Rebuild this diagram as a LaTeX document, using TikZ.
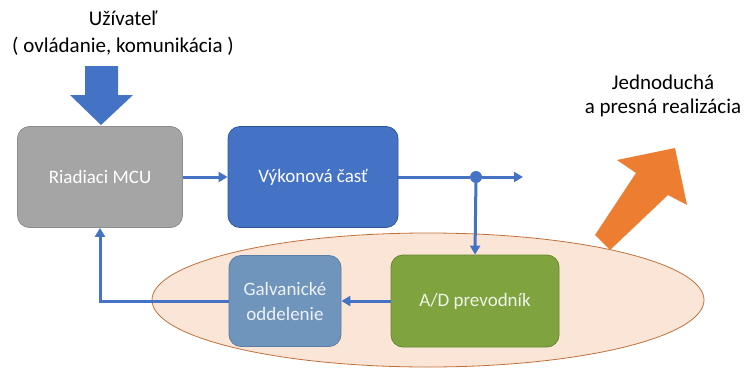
\documentclass[tikz,border=0pt]{standalone}
\usepackage{fontspec}
\setmainfont{Carlito}
\usetikzlibrary{arrows.meta}

\definecolor{mcugray}{HTML}{A5A5A5}
\definecolor{mcuedge}{HTML}{8E8E8E}
\definecolor{powblue}{HTML}{4472C4}
\definecolor{powedge}{HTML}{2F5597}
\definecolor{galblue}{HTML}{7095BD}
\definecolor{galedge}{HTML}{5A7DA6}
\definecolor{adgreen}{HTML}{7FA33F}
\definecolor{adedge}{HTML}{66872F}
\definecolor{ovalfill}{HTML}{FBE5D6}
\definecolor{ovaledge}{HTML}{C0713A}
\definecolor{goorange}{HTML}{ED7D31}

\begin{document}
\begin{tikzpicture}[x=1pt,y=-1pt,
    blok/.style={rounded corners=12pt, draw, line width=0.8pt, align=center,
        font=\fontsize{19}{25}\selectfont},
    spoj/.style={line width=3pt, draw=powblue, -{Triangle[length=9pt,width=10pt]}}]
    \useasboundingbox (0,0) rectangle (744,367);

    \coordinate (O) at (428,300);
    \coordinate (vystup) at (523,177);

    \filldraw[fill=ovalfill, draw=ovaledge, line width=0.8pt]
        (O) ellipse [x radius=276pt, y radius=67pt];

    \node[blok, fill=mcugray, draw=mcuedge, text=white, minimum width=165pt, minimum height=101pt]
        (mcu) at (100,177) {Riadiaci MCU};
    \node[blok, fill=powblue, draw=powedge, text=white, minimum width=170pt, minimum height=101pt]
        (vykon) at (313,177) {Výkonová časť};
    \node[blok, fill=galblue, draw=galedge, text=white!88!galblue, minimum width=112pt, minimum height=91pt]
        (galv) at (285,301) {Galvanické\\oddelenie};
    \node[blok, fill=adgreen, draw=adedge, text=white!88!adgreen, minimum width=168pt, minimum height=92pt]
        (ad) at (475,301) {A/D prevodník};
    \node[circle, fill=powblue, inner sep=0pt, minimum size=12pt] (uzol) at (476,177) {};

    \draw[spoj] (mcu.east) -- (vykon.west);
    \draw[spoj, -] (vykon.east) -- (uzol);
    \draw[spoj] (uzol) -- (vystup);
    \draw[spoj] (uzol) -- (ad.north);
    \draw[spoj] (ad.west) -- (galv.east);
    \draw[spoj] (galv.west) -| (mcu.south);

    \fill[powblue] (85,66) -- (118,66) -- (118,95) -- (133,95) -- (101,125)
        -- (70,95) -- (85,95) -- cycle;
    \fill[goorange] (675,148) -- (687,205) -- (668,195) -- (610,250)
        -- (595,235) -- (636,173) -- (617,160) -- cycle;

    \node[align=center, font=\fontsize{21}{27}\selectfont] (uzivatel) at (123,33)
        {Užívateľ\\( ovládanie, komunikácia )};
    \node[align=center, font=\fontsize{21}{24}\selectfont] (ciel) at (663,96)
        {Jednoduchá\\a presná realizácia};
\end{tikzpicture}
\end{document}
